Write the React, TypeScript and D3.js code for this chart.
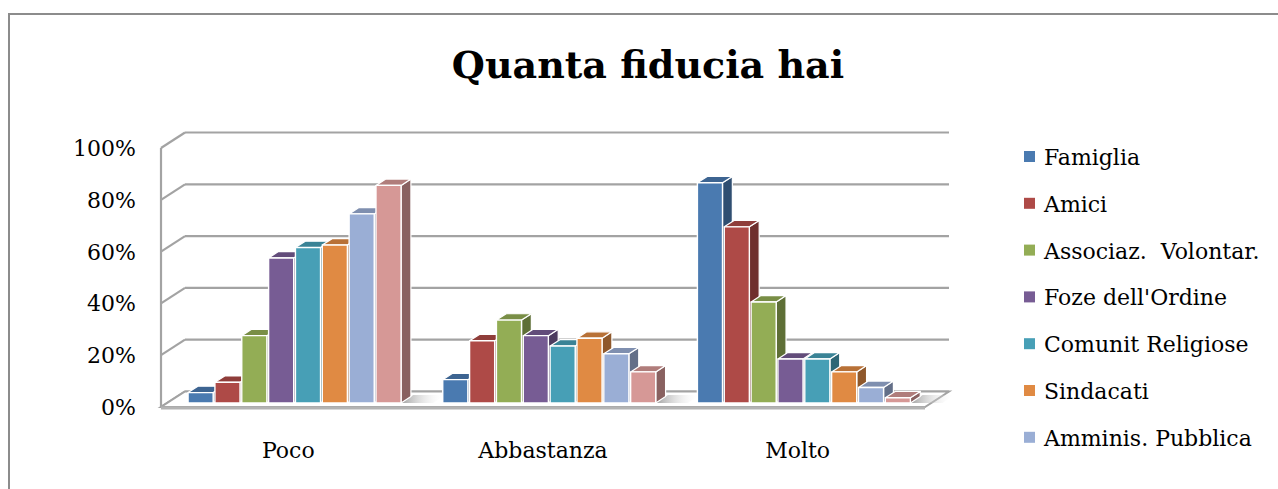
import * as d3 from "d3";

// categories on the x axis
const categories = ["Poco", "Abbastanza", "Molto"];

// series (legend shows only the first seven, the last one is cut off in the source)
const seriesNames = [
  "Famiglia",
  "Amici",
  "Associaz.  Volontar.",
  "Foze dell'Ordine",
  "Comunit Religiose",
  "Sindacati",
  "Amminis. Pubblica",
  "Serie 8",
];

// values in %, one per category
const famiglia = [4, 9, 85];
const amici = [8, 24, 68];
const associaz = [26, 32, 39];
const forze = [56, 26, 17];
const comunit = [60, 22, 17];
const sindacati = [61, 25, 12];
const amminis = [73, 19, 6];
const serie8 = [84, 12, 2];

const seriesValues = [famiglia, amici, associaz, forze, comunit, sindacati, amminis, serie8];

const yTicks = [0, 20, 40, 60, 80, 100];

const colors = [
  "#4a7ab0",
  "#ae4a47",
  "#93ad55",
  "#775c94",
  "#479fb6",
  "#e08a43",
  "#9aaed5",
  "#d69896",
];

const W = 1278;
const H = 489;
const FONT = "'DejaVu Serif', serif";

function App() {
  // plot frame
  const left = 161;
  const right = 925;
  const DX = 24; // depth offset in x
  const DY = 15.5; // depth offset in y

  const x = d3.scaleBand().domain(categories).range([left, right]);
  const y = d3.scaleLinear().domain([0, 100]).range([407, 148]);

  const groupW = 213;
  const inner = d3
    .scaleBand()
    .domain(seriesNames)
    .range([0, groupW])
    .paddingInner(0.065);

  const z0 = 0.26;
  const z1 = 0.67;

  const P = (px, v, z) => [px + DX * z, y(v) - DY * z];
  const poly = (pts) => pts.map((p) => p.join(",")).join(" ");

  const gridColor = "#a3a3a3";

  // bars
  const bars = [];
  categories.forEach((cat, ci) => {
    const gx = x(cat) + (x.bandwidth() - groupW) / 2;
    seriesNames.forEach((s, si) => {
      const v = seriesValues[si][ci];
      const x0 = gx + inner(s);
      const x1 = x0 + inner.bandwidth();
      const c = d3.color(colors[si]);
      const front = [P(x0, 0, z0), P(x1, 0, z0), P(x1, v, z0), P(x0, v, z0)];
      const top = [P(x0, v, z0), P(x1, v, z0), P(x1, v, z1), P(x0, v, z1)];
      const side = [P(x1, 0, z0), P(x1, 0, z1), P(x1, v, z1), P(x1, v, z0)];
      bars.push(
        <g key={cat + s}>
          <polygon points={poly(side)} fill={c.darker(1.25).toString()} stroke="#fff" strokeWidth={1.2} strokeLinejoin="round" />
          <polygon points={poly(top)} fill={c.darker(0.55).toString()} stroke="#fff" strokeWidth={1.2} strokeLinejoin="round" />
          <polygon points={poly(front)} fill={colors[si]} stroke="#fff" strokeWidth={1.4} strokeLinejoin="round" />
        </g>
      );
    });
  });

  // floor shading right of each group
  const shadows = categories.map((cat) => {
    const gx = x(cat) + (x.bandwidth() - groupW) / 2 + groupW;
    const pts = [P(gx, 0, z0), P(gx + 32, 0, z0), P(gx + 32, 0, z1 + 0.1), P(gx, 0, z1 + 0.1)];
    return <polygon key={"sh" + cat} points={poly(pts)} fill="url(#floorShade)" />;
  });

  const floor = [P(left, 0, 0), P(right, 0, 0), P(right, 0, 1), P(left, 0, 1)];

  return (
    <svg
      width={W}
      height={H}
      style={{ position: "absolute", left: 0, top: 0, background: "#fff" }}
    >
      <defs>
        <linearGradient id="floorShade" x1="0" x2="1" y1="0" y2="0">
          <stop offset="0" stopColor="#8f8f8f" stopOpacity={0.85} />
          <stop offset="1" stopColor="#ffffff" stopOpacity={0} />
        </linearGradient>
      </defs>

      {/* outer chart border */}
      <rect x={9} y={14} width={W + 20} height={H + 20} fill="#fff" stroke="#8c8c8c" strokeWidth={2} />

      {/* title */}
      <text x={648} y={78} textAnchor="middle" fontSize={38} fontWeight="bold" fill="#000" style={{ fontFamily: FONT }}>
        Quanta fiducia hai
      </text>

      {/* walls and gridlines */}
      {yTicks.map((t) => {
        const a = P(left, t, 0);
        const b = P(left, t, 1);
        const c = P(right, t, 1);
        return (
          <g key={"g" + t}>
            <line x1={a[0]} y1={a[1]} x2={b[0]} y2={b[1]} stroke={gridColor} strokeWidth={2.2} />
            <line x1={b[0]} y1={b[1]} x2={c[0]} y2={c[1]} stroke={gridColor} strokeWidth={2.2} />
          </g>
        );
      })}
      <line x1={left} y1={y(0)} x2={left} y2={y(100)} stroke={gridColor} strokeWidth={2.2} />

      {/* floor */}
      <polygon points={poly(floor)} fill="#fff" stroke={gridColor} strokeWidth={2} />
      <line x1={left} y1={y(0) + 1} x2={right} y2={y(0) + 1} stroke="#b3b3b3" strokeWidth={3} />
      {shadows}

      {bars}

      {/* y axis labels */}
      {yTicks.map((t) => (
        <text key={"yl" + t} x={136} y={y(t) + 8} textAnchor="end" fontSize={22} fill="#000" style={{ fontFamily: FONT }}>
          {t + "%"}
        </text>
      ))}

      {/* category labels */}
      {categories.map((cat) => (
        <text key={"cl" + cat} x={x(cat) + x.bandwidth() / 2} y={458} textAnchor="middle" fontSize={22} fill="#000" style={{ fontFamily: FONT }}>
          {cat}
        </text>
      ))}

      {/* legend */}
      {seriesNames.slice(0, 7).map((s, i) => {
        const ly = 157 + i * 46.8;
        return (
          <g key={"lg" + s}>
            <rect x={1024} y={ly - 6} width={11} height={11} fill={colors[i]} />
            <text x={1044} y={ly + 8} fontSize={22} fill="#000" style={{ fontFamily: FONT, whiteSpace: "pre" }}>
              {s}
            </text>
          </g>
        );
      })}
    </svg>
  );
}

export default App;
